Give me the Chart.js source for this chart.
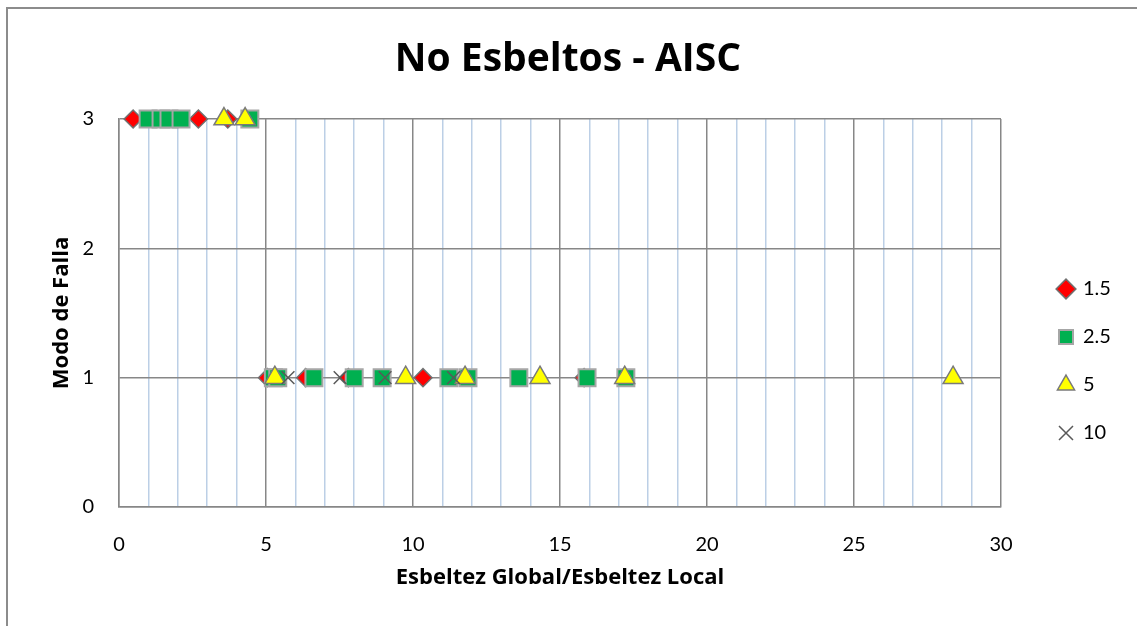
<!DOCTYPE html>
<html>
<head>
<meta charset="utf-8">
<script src="https://cdn.jsdelivr.net/npm/chart.js@4.4.1/dist/chart.umd.min.js"></script>
<style>
  html, body { margin: 0; padding: 0; background: #fff; }
</style>
</head>
<body>
<canvas id="chart" width="1137" height="626"></canvas>
<script>
// series names (legend)
const seriesNames = ['1.5', '2.5', '5', '10'];

// slenderness ratio (x) and failure mode (y) for each series
const x15 = [0.48, 2.70, 3.70, 5.05, 6.35, 7.80, 10.34, 15.82];
const y15 = [3, 3, 3, 1, 1, 1, 1, 1];

const x25 = [0.99, 1.43, 1.70, 2.11, 4.45, 5.25, 5.40, 6.63, 8.00, 8.95, 11.22, 11.87, 13.60, 15.92, 17.24];
const y25 = [3, 3, 3, 3, 3, 1, 1, 1, 1, 1, 1, 1, 1, 1, 1];

const x5 = [3.57, 4.29, 5.30, 9.75, 11.77, 14.32, 17.20, 28.37];
const y5 = [3, 3, 1, 1, 1, 1, 1, 1];

const x10 = [5.75, 7.52, 9.05, 11.38];
const y10 = [1, 1, 1, 1];

// axis ranges
const xMin = 0, xMax = 30, yMin = 0, yMax = 3;

const FONT = 'Lato, "Open Sans", sans-serif';
const BOLD = '"Open Sans", Lato, sans-serif';
const MAJOR = '#878787';
const MINOR = '#bccfe6';

const LEG_SIZE = 20, LEG_PAD = 28, LEG_BOX = 14;

const toPoints = (xs, ys) => xs.map((x, i) => ({ x: x, y: ys[i] }));

// legend width, so the plot ends at x = 1001
const mctx = document.createElement('canvas').getContext('2d');
mctx.font = LEG_SIZE + 'px ' + FONT;
const textW = Math.max(...seriesNames.map((s) => mctx.measureText(s).width));
const legendW = LEG_PAD + LEG_BOX + LEG_SIZE / 2 + textW + 10;

// gray frame around the whole chart
const frame = {
  id: 'frame',
  beforeDraw(chart) {
    const c = chart.ctx;
    c.save();
    c.strokeStyle = '#8c8c8c';
    c.lineWidth = 2;
    c.strokeRect(7, 8, 1300, 800);
    c.restore();
  }
};

// move legend content to the spot it has in the reference
const legendSpot = {
  id: 'legendSpot',
  afterLayout(chart) {
    const lg = chart.legend;
    if (!lg || !lg.columnSizes) return;
    const dx = 1066 - (lg.left + LEG_PAD + LEG_BOX / 2);
    lg.left += dx; lg.right += dx;
    const startY = (lg.top + LEG_PAD + lg.bottom - lg.columnSizes[0].height) / 2;
    const dy = 279 - startY;
    lg.top += dy; lg.bottom += dy;
  }
};

new Chart(document.getElementById('chart'), {
  type: 'scatter',
  plugins: [frame, legendSpot],
  data: {
    datasets: [
      {
        label: seriesNames[0], data: toPoints(x15, y15), order: 3,
        pointStyle: 'rectRot', pointRadius: 9, pointHoverRadius: 9,
        backgroundColor: '#ff0000', borderColor: '#707070', borderWidth: 1.5, clip: false
      },
      {
        label: seriesNames[1], data: toPoints(x25, y25), order: 2,
        pointStyle: 'rect', pointRadius: 12, pointHoverRadius: 12,
        backgroundColor: '#00b050', borderColor: '#a6a6a6', borderWidth: 2, clip: false
      },
      {
        label: seriesNames[2], data: toPoints(x5, y5), order: 1,
        pointStyle: 'triangle', pointRadius: 11.5, pointHoverRadius: 11.5,
        backgroundColor: '#ffff00', borderColor: '#7a7a7a', borderWidth: 1.5, clip: false
      },
      {
        label: seriesNames[3], data: toPoints(x10, y10), order: 0,
        pointStyle: 'crossRot', pointRadius: 9, pointHoverRadius: 9,
        backgroundColor: '#595959', borderColor: '#595959', borderWidth: 1.5, clip: false
      }
    ]
  },
  options: {
    responsive: false,
    animation: false,
    layout: { padding: { left: 45, right: 1137 - 1001 - legendW, top: 0, bottom: 31 } },
    plugins: {
      tooltip: { enabled: false },
      title: {
        display: true,
        text: 'No Esbeltos - AISC',
        color: '#000',
        font: { family: BOLD, size: 39, weight: 'bold' },
        padding: { top: 36, bottom: 36.2 }
      },
      legend: {
        position: 'right',
        labels: {
          usePointStyle: true,
          boxWidth: LEG_BOX,
          boxHeight: LEG_BOX,
          padding: LEG_PAD,
          color: '#000',
          font: { family: FONT, size: LEG_SIZE },
          sort: (a, b) => a.datasetIndex - b.datasetIndex
        }
      }
    },
    scales: {
      x: {
        type: 'linear',
        min: xMin, max: xMax,
        afterFit: (s) => { s.height = 88; },
        border: { color: MAJOR, width: 1.5 },
        grid: {
          drawTicks: false,
          color: (ctx) => (ctx.tick && ctx.tick.value % 5 === 0) ? MAJOR : MINOR,
          lineWidth: 1.5
        },
        ticks: {
          stepSize: 1, autoSkip: false, maxRotation: 0, padding: 26,
          color: '#000', font: { family: FONT, size: 20 },
          callback: (v) => (v % 5 === 0 ? String(v) : '')
        },
        title: {
          display: true, text: 'Esbeltez Global/Esbeltez Local', color: '#000',
          font: { family: BOLD, size: 22, weight: 'bold' }
        }
      },
      y: {
        type: 'linear',
        min: yMin, max: yMax,
        afterFit: (s) => { s.width = 74; },
        border: { color: MAJOR, width: 1.5 },
        grid: { drawTicks: false, color: MAJOR, lineWidth: 1.5 },
        ticks: {
          stepSize: 1, padding: 25,
          color: '#000', font: { family: FONT, size: 20 }
        },
        title: {
          display: true, text: 'Modo de Falla', color: '#000',
          font: { family: BOLD, size: 22, weight: 'bold' }
        }
      }
    }
  }
});
</script>
</body>
</html>
